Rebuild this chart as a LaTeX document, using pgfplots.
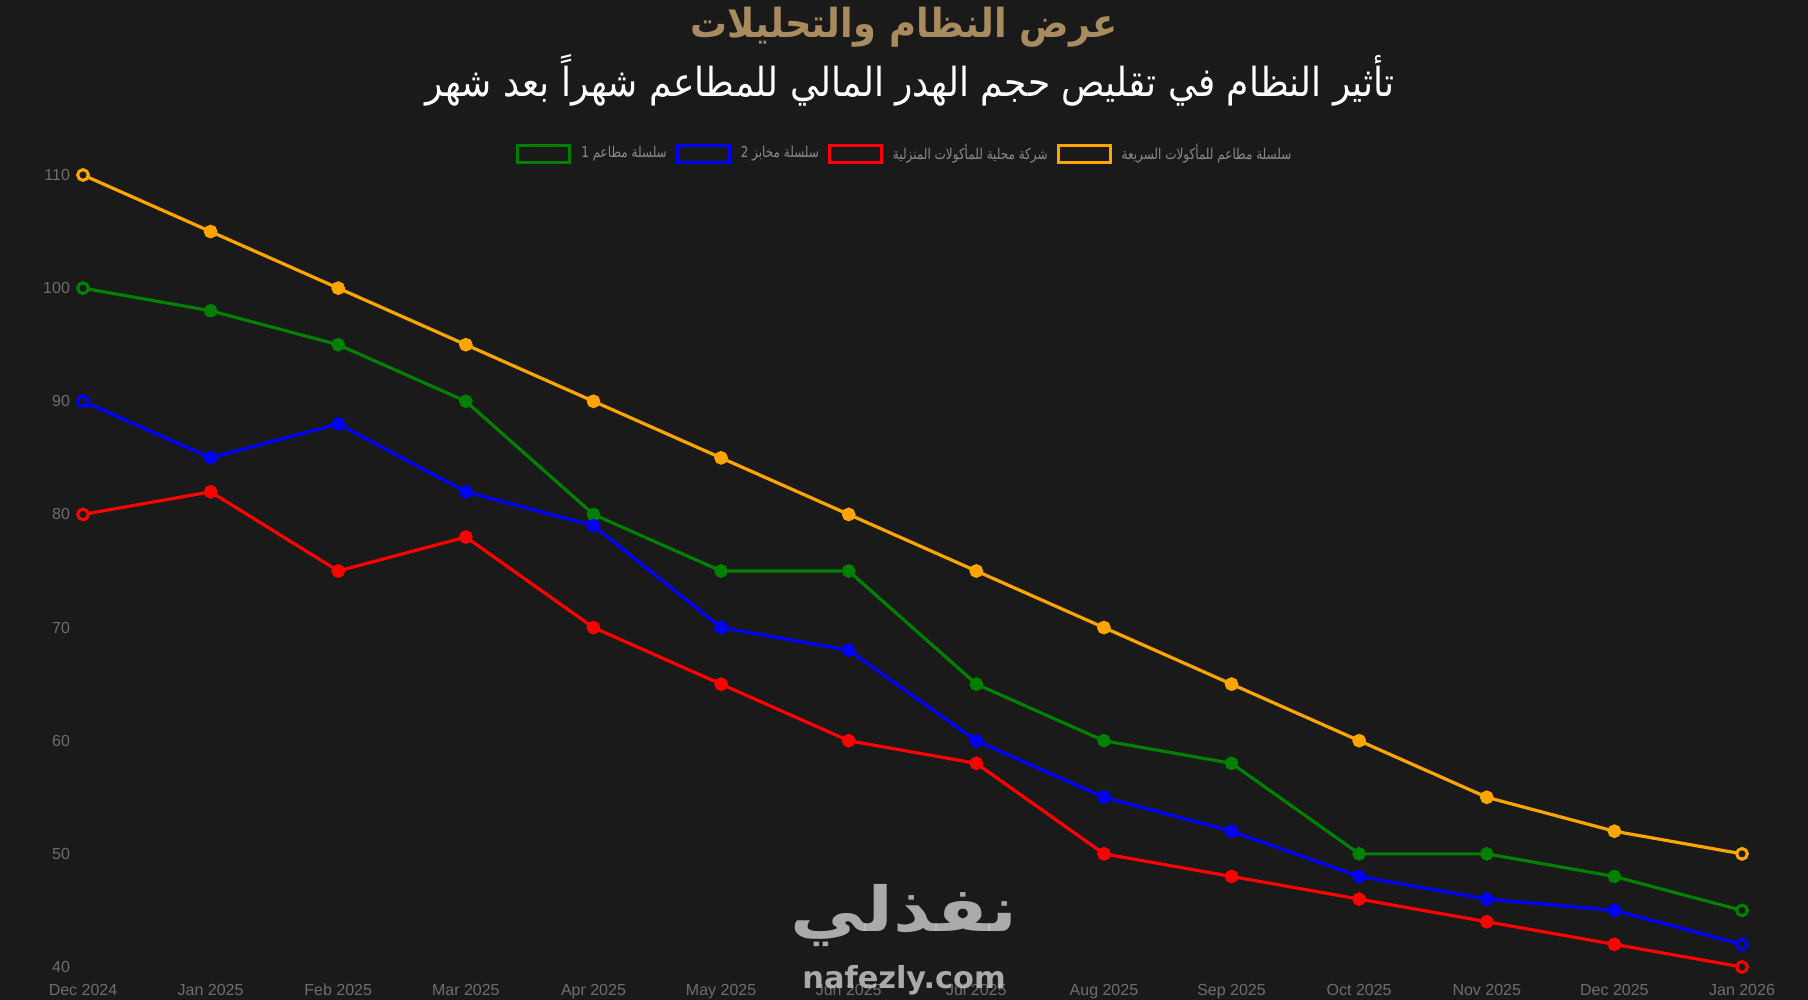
\documentclass[border=0pt]{standalone}
\usepackage{pgfplots}
\pgfplotsset{compat=1.18}
\usepackage{fontspec}
\setmainfont{Liberation Sans}
\newfontfamily\arabicfont[Script=Arabic,FakeStretch=0.9]{DejaVu Sans}
\newfontfamily\legfont[Script=Arabic,FakeStretch=0.8]{DejaVu Sans}
\newfontfamily\arabicboldfont[Script=Arabic,FakeStretch=0.92]{DejaVu Sans Bold}
\newfontfamily\wmfont[Script=Arabic,FakeStretch=1.2]{DejaVu Sans Bold}
\newfontfamily\wmlatin{DejaVu Sans Bold}
\TeXXeTstate=1
\definecolor{bgcol}{HTML}{1A1A1A}
\definecolor{tickcol}{HTML}{6E6E6E}
\definecolor{legcol}{HTML}{8A8A8A}
\definecolor{titlecol}{HTML}{A88B5E}
\definecolor{cgreen}{HTML}{008000}
\definecolor{cblue}{HTML}{0000FF}
\definecolor{cred}{HTML}{FF0000}
\definecolor{corange}{HTML}{FFA500}
\definecolor{wm}{HTML}{C4C4C4}

\pgfplotstableread{
x green blue red orange
0 100 90 80 110
1 98 85 82 105
2 95 88 75 100
3 90 82 78 95
4 80 79 70 90
5 75 70 65 85
6 75 68 60 80
7 65 60 58 75
8 60 55 50 70
9 58 52 48 65
10 50 48 46 60
11 50 46 44 55
12 48 45 42 52
13 45 42 40 50
}\datatable
\pgfplotstableread{
x green blue red orange
0 100 90 80 110
13 45 42 40 50
}\endtable

\begin{document}
\begin{tikzpicture}[x=1pt,y=1pt]
\path[fill=bgcol,use as bounding box] (0,0) rectangle (904,500);
% titles
\node[anchor=base,text=titlecol,font=\arabicboldfont\fontsize{20}{23}\selectfont] at (452,481) {\beginR عرض النظام والتحليلات\endR};
\node[text=white,font=\arabicfont\fontsize{20}{23}\selectfont] at (455,460) {\beginR تأثير النظام في تقليص حجم الهدر المالي للمطاعم شهراً بعد شهر\endR};
\begin{axis}[
  at={(41.5pt,16.5pt)}, anchor=south west,
  scale only axis, width=829.5pt, height=396pt,
  xmin=0, xmax=13, ymin=40, ymax=110,
  clip=true,
  axis line style={draw=none},
  major tick length=0pt,
  xtick={0,...,13},
  xticklabels={Dec 2024,Jan 2025,Feb 2025,Mar 2025,Apr 2025,May 2025,Jun 2025,Jul 2025,Aug 2025,Sep 2025,Oct 2025,Nov 2025,Dec 2025,Jan 2026},
  ytick={40,50,...,110},
  /pgf/number format/assume math mode=true,
  x tick label style={font=\fontsize{8}{9}\selectfont, text=tickcol, yshift=-5pt},
  y tick label style={font=\fontsize{8}{9}\selectfont, text=tickcol, xshift=-3pt},
  every axis plot/.append style={line width=1.6pt, mark=*, mark size=2.6pt},
  legend columns=-1,
  legend style={at={(0.496,1.027)}, anchor=center, draw=none, fill=none,
    font=\legfont\fontsize{7.5}{9}\selectfont, text=legcol,
    /tikz/every even column/.append style={column sep=2.5pt},
    /tikz/every odd column/.append style={column sep=3pt}},
  legend image code/.code={\draw[line width=1.5pt,fill=bgcol] (0pt,-4.3pt) rectangle (26pt,4.3pt);},
]
\addplot[color=cgreen] table[x=x,y=green]{\datatable};
\addlegendentry{\beginR سلسلة مطاعم 1\endR}
\addplot[color=cblue] table[x=x,y=blue]{\datatable};
\addlegendentry{\beginR سلسلة مخابز 2\endR}
\addplot[color=cred] table[x=x,y=red]{\datatable};
\addlegendentry{\beginR شركة محلية للمأكولات المنزلية\endR}
\addplot[color=corange] table[x=x,y=orange]{\datatable};
\addlegendentry{\beginR سلسلة مطاعم للمأكولات السريعة\endR}
\addplot[forget plot, only marks, draw=cgreen, fill=bgcol, mark options={line width=1.4pt}] table[x=x,y=green]{\endtable};
\addplot[forget plot, only marks, draw=cblue, fill=bgcol, mark options={line width=1.4pt}] table[x=x,y=blue]{\endtable};
\addplot[forget plot, only marks, draw=cred, fill=bgcol, mark options={line width=1.4pt}] table[x=x,y=red]{\endtable};
\addplot[forget plot, only marks, draw=corange, fill=bgcol, mark options={line width=1.4pt}] table[x=x,y=orange]{\endtable};
\end{axis}
% watermark
\node[text=wm,opacity=0.85,font=\wmfont\fontsize{31}{34}\selectfont] at (452,42) {\beginR نفذلي\endR};
\node[text=wm,opacity=0.85,font=\wmlatin\fontsize{15.2}{17}\selectfont] at (452,10) {nafezly.com};
\end{tikzpicture}
\end{document}
